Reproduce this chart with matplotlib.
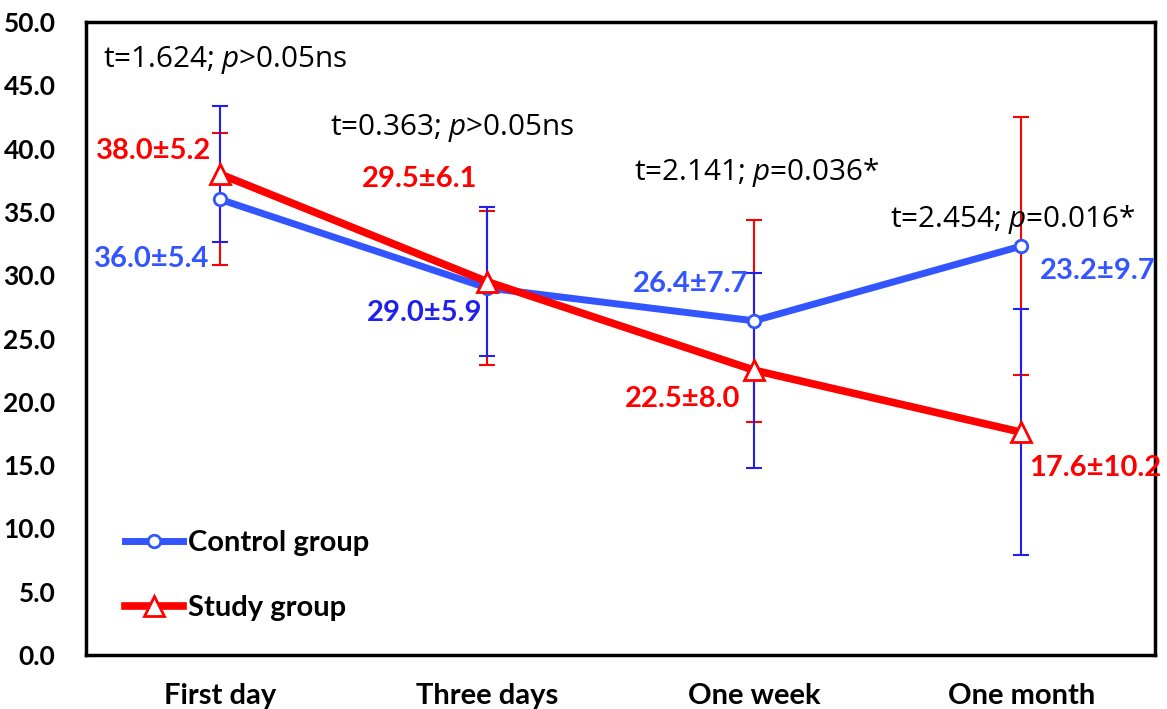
import matplotlib
matplotlib.use("Agg")
import matplotlib.pyplot as plt

# time points
categories = ["First day", "Three days", "One week", "One month"]

# plotted means (as drawn in the figure)
control_mean = [36.0, 29.0, 26.4, 32.3]
study_mean = [38.0, 29.5, 22.5, 17.6]

# standard deviations
control_sd = [5.4, 5.9, 7.7, 9.7]
study_sd = [5.2, 6.1, 8.0, 10.2]

# printed labels
control_labels = ["36.0±5.4", "29.0±5.9", "26.4±7.7", "23.2±9.7"]
study_labels = ["38.0±5.2", "29.5±6.1", "22.5±8.0", "17.6±10.2"]

# t-test annotations
t_vals = ["1.624", "0.363", "2.141", "2.454"]
p_vals = [">0.05ns", ">0.05ns", "=0.036*", "=0.016*"]

bold_font = ["Lato", "DejaVu Sans"]
reg_font = ["Open Sans", "DejaVu Sans"]
plt.rcParams["mathtext.fontset"] = "custom"
plt.rcParams["mathtext.it"] = "Open Sans:italic"
plt.rcParams["mathtext.rm"] = "Open Sans"
W = "bold"

blue = "#3355ff"
blue_err = "#2020ee"
red = "#ff0000"

fig = plt.figure(figsize=(11.67, 7.09), dpi=100)
ax = fig.add_axes([0.0737, 0.076, 0.916, 0.893])

x = list(range(len(categories)))

# error bars (drawn as in the source figure, centred on the other group's points)
ax.errorbar(x, control_mean, yerr=study_sd, fmt="none", ecolor=red,
            elinewidth=1.5, capsize=6, capthick=1.5, zorder=2)
ax.errorbar(x, study_mean, yerr=control_sd, fmt="none", ecolor=blue_err,
            elinewidth=1.5, capsize=6, capthick=1.5, zorder=3)

ax.plot(x, control_mean, color=blue, lw=5, marker="o", ms=9,
        mfc="white", mec=blue, mew=2, label="Control group", zorder=4)
ax.plot(x, study_mean, color=red, lw=5.5, marker="^", ms=14,
        mfc="white", mec=red, mew=2, label="Study group", zorder=5)

# value labels
lab_fs = 21
c_pos = [(-0.04, 31.3, "right"), (0.985, 27.0, "right"),
         (1.977, 29.3, "right"), (3.07, 30.3, "left")]
s_pos = [(-0.03, 39.8, "right"), (0.963, 37.6, "right"),
         (1.947, 20.2, "right"), (3.03, 14.8, "left")]
c_cols = [blue, blue_err, blue, blue]
for (px, py, ha), txt, col in zip(c_pos, control_labels, c_cols):
    ax.text(px, py, txt, color=col, fontsize=lab_fs, fontweight=W,
            family=bold_font, ha=ha, va="center", zorder=6)
for (px, py, ha), txt in zip(s_pos, study_labels):
    ax.text(px, py, txt, color=red, fontsize=lab_fs, fontweight=W,
            family=bold_font, ha=ha, va="center", zorder=6)

# t / p annotations
t_pos = [(-0.436, 47.0), (0.413, 41.6), (1.55, 38.1), (2.508, 34.4)]
for (px, py), t, p in zip(t_pos, t_vals, p_vals):
    ax.text(px, py, "t=" + t + "; $\\mathit{p}$" + p, fontsize=21.3,
            family=reg_font, ha="left", va="center", zorder=6)

ax.set_xlim(-0.5, 3.5)
ax.set_ylim(0, 50)
ax.set_yticks([i * 5 for i in range(11)])
ax.set_yticklabels(["%.1f" % (i * 5) for i in range(11)])
ax.set_xticks(x)
ax.set_xticklabels(categories)
ax.tick_params(axis="y", length=0, pad=22)
ax.tick_params(axis="x", length=0, pad=20)
for lbl in ax.get_yticklabels():
    lbl.set_fontweight(W)
    lbl.set_family(bold_font)
    lbl.set_fontsize(19)
for lbl in ax.get_xticklabels():
    lbl.set_fontweight(W)
    lbl.set_family(bold_font)
    lbl.set_fontsize(21)

for sp in ax.spines.values():
    sp.set_linewidth(2.5)
    sp.set_color("black")

leg = ax.legend(loc="lower left", bbox_to_anchor=(0.012, 0.012), frameon=False,
                handlelength=2.0, handletextpad=0.15, labelspacing=1.35,
                prop={"family": bold_font, "weight": W, "size": 21})

fig.savefig("out.png", dpi=100)
